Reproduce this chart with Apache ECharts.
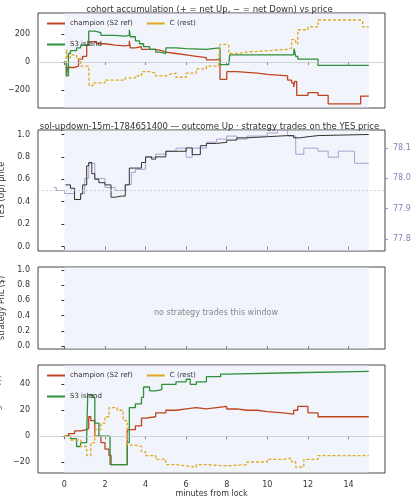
<!DOCTYPE html>
<html><head><meta charset="utf-8">
<script src="https://cdn.jsdelivr.net/npm/echarts@6/dist/echarts.min.js"></script>
<style>html,body{margin:0;background:#fff}#c{width:419px;height:500px}</style>
</head><body><div id="c"></div>
<script>
// ---- data (minutes from lock, value) ----
var accChampion = [[0,0],[0.1,-100],[0.15,-40],[0.5,-30],[0.7,20],[0.9,40],[1.1,120],[1.2,145],[1.6,130],[2.0,120],[2.5,115],[3.0,120],[3.2,150],[3.25,100],[3.5,110],[3.8,90],[4.0,90],[4.5,80],[4.8,70],[5.0,60],[5.5,50],[6.0,40],[6.5,30],[7.0,15],[7.4,20],[7.67,-125],[8.0,-70],[8.5,-75],[9.0,-80],[9.5,-90],[10.0,-95],[10.5,-100],[11.0,-130],[11.2,-150],[11.3,-180],[11.35,-140],[11.45,-240],[12.0,-220],[12.5,-240],[13.0,-300],[14.6,-245],[15,-245]];
var accS3 = [[0,0],[0.1,-100],[0.2,60],[0.3,80],[0.6,100],[0.8,120],[1.2,220],[1.5,210],[1.8,190],[2.5,185],[3.0,190],[3.2,230],[3.25,180],[3.5,150],[3.7,130],[3.9,110],[4.2,90],[4.5,70],[4.7,60],[5.0,100],[5.5,95],[6.0,90],[7.0,95],[7.3,100],[7.67,-20],[8.1,-20],[8.15,50],[9,50],[11.3,45],[11.32,95],[11.4,40],[11.5,20],[12.5,-25],[15,-25]];
var accC = [[0,0],[0.1,90],[0.15,30],[0.3,50],[0.6,20],[0.8,-30],[1.2,-40],[1.22,-170],[1.4,-150],[2,-130],[3,-115],[3.5,-100],[3.8,-70],[4.2,-80],[4.5,-100],[5,-90],[5.2,-80],[5.5,-110],[6,-80],[6.5,-50],[7,-30],[7.6,-10],[7.67,125],[8.0,120],[8.1,60],[8.5,70],[9,80],[10,85],[10.5,90],[11,100],[11.2,160],[11.4,130],[11.5,230],[12,250],[12.5,300],[14.6,295],[14.7,250],[15,260]];
var yesPrice = [[0.05,0.55],[0.3,0.52],[0.5,0.42],[0.8,0.47],[0.9,0.55],[1.1,0.72],[1.2,0.75],[1.35,0.65],[1.5,0.60],[1.7,0.57],[2,0.55],[2.3,0.44],[2.5,0.45],[2.8,0.45],[3.0,0.55],[3.2,0.70],[3.5,0.70],[3.8,0.75],[4,0.80],[4.3,0.78],[4.5,0.80],[5,0.85],[5.5,0.85],[6,0.88],[6.3,0.82],[6.7,0.90],[7,0.92],[7.5,0.93],[8,0.95],[8.5,0.97],[9,0.98],[10,0.99],[11,0.99],[11.3,0.97],[11.6,0.98],[12,0.99],[12.5,1.0],[15,1.0]];
var solUsd = [[-0.53,77.97],[-0.4,77.96],[0,77.95],[0.5,77.93],[0.8,77.95],[1.0,78.0],[1.2,78.05],[1.5,78.0],[2,77.97],[2.5,77.96],[3,77.98],[3.3,78.02],[3.5,78.03],[4,78.07],[4.5,78.08],[5,78.09],[5.5,78.10],[6,78.07],[6.3,78.10],[7,78.12],[7.5,78.13],[8,78.14],[8.5,78.13],[9,78.14],[10,78.15],[10.5,78.16],[11,78.14],[11.4,78.08],[11.8,78.10],[12,78.10],[12.5,78.09],[13,78.07],[13.5,78.09],[14,78.09],[14.3,78.05],[15,78.05]];
var pnlChampion = [[0,0],[0.2,2],[0.5,4],[0.8,5],[1.1,6],[1.2,15],[1.3,12],[1.5,0],[1.8,-5],[2.0,-10],[2.2,-15],[2.3,-22],[3.0,-22],[3.1,5],[3.5,8],[3.8,14],[4.0,15],[4.5,18],[5,20],[5.5,21],[6,22],[6.5,21],[7,22],[7.5,23],[8,21],[8.5,20],[9,20],[9.5,19],[10,18],[10.8,17],[11.3,20],[11.5,23],[12.0,18],[12.5,15],[15,14]];
var pnlS3 = [[0,0],[0.3,-2],[0.6,-8],[0.8,-5],[1.1,0],[1.15,32],[1.4,30],[1.5,10],[1.7,0],[2.25,-22],[3.0,-22],[3.1,-5],[3.2,22],[3.5,25],[3.8,30],[3.9,38],[4.2,35],[4.5,36],[4.8,40],[5.5,42],[6,44],[6.2,40],[6.5,42],[7,46],[7.7,48],[8,49],[11.3,50],[15,50]];
var pnlC = [[0,0],[0.3,-3],[0.8,-8],[1.1,-15],[1.3,-5],[1.5,5],[1.8,10],[2.0,15],[2.2,22],[2.6,20],[2.9,12],[3.1,-7],[3.5,-8],[3.8,-12],[4,-15],[4.5,-18],[5,-22],[5.5,-23],[6,-24],[6.5,-22],[7,-23],[8,-22],[9,-20],[10,-18],[10.8,-17],[11.2,-20],[11.4,-24],[11.7,-24],[11.8,-18],[12.5,-15],[15,-15]];
var xTicks = [0,2,4,6,8,10,12,14];
var accTicks = [-200,0,200];
var priceTicks = [0,0.2,0.4,0.6,0.8,1.0];
var pnlTicks = [-20,0,20,40];
var solTicks = [77.8,77.9,78.0,78.1];

var RED = '#c0441f', GREEN = '#2f8f3a', GOLD = '#e0a81e', INK = '#333';
var chart = echarts.init(document.getElementById('c'));
var font = {fontFamily: 'DejaVu Sans', fontSize: 8, color: INK};

var grids = [
  {left: 38, right: 34, top: 13, height: 95},
  {left: 38, right: 34, top: 130, height: 121},
  {left: 38, right: 34, top: 267, height: 82},
  {left: 38, right: 34, top: 365, height: 108}
].map(function (g) { return Object.assign(g, {show: true, borderColor: '#444', borderWidth: 1,
  backgroundColor: 'transparent', containLabel: false, outerBoundsMode: 'none'}); });

function xAxis(i) {
  return {
    type: 'value', gridIndex: i, min: -1.3, max: 15.8,
    axisLine: {show: false},
    axisTick: {show: true, customValues: xTicks, length: 3, lineStyle: {color: INK}},
    axisLabel: {show: i === 3, customValues: xTicks, fontSize: 8, color: INK, fontFamily: 'DejaVu Sans'},
    splitLine: {show: false},
    name: i === 3 ? 'minutes from lock' : '', nameLocation: 'middle', nameGap: 14,
    nameTextStyle: font
  };
}
function yAxis(i, min, max, ticks, name, gap) {
  var frac = ticks[1] - ticks[0] < 1;
  return {
    type: 'value', gridIndex: i, min: min, max: max,
    axisLine: {show: false},
    axisTick: {show: true, customValues: ticks, length: 3, lineStyle: {color: INK}},
    axisLabel: {customValues: ticks, fontSize: 8, color: INK, fontFamily: 'DejaVu Sans',
      formatter: function (v) { return (frac ? (+v).toFixed(1) : String(v)).replace('-', '\u2212'); }},
    splitLine: {show: false},
    name: name, nameLocation: 'middle', nameGap: gap, nameTextStyle: font
  };
}
function step(name, data, color, xi, yi, dashed, extra) {
  return Object.assign({
    name: name, type: 'line', step: 'end', data: data, xAxisIndex: xi, yAxisIndex: yi,
    symbol: 'none', lineStyle: {color: color, width: 1.3, type: dashed ? [3, 2] : 'solid'},
    itemStyle: {color: color}, animation: false
  }, extra || {});
}
function span(xi, yi) {
  return {type: 'line', data: [], xAxisIndex: xi, yAxisIndex: yi, silent: true,
    markArea: {silent: true, itemStyle: {color: 'rgba(225,230,245,0.45)'}, data: [[{xAxis: 0}, {xAxis: 15}]]}};
}
function zero(xi, yi, y) {
  return {type: 'line', data: [], xAxisIndex: xi, yAxisIndex: yi, silent: true,
    markLine: {silent: true, symbol: 'none', label: {show: false},
      lineStyle: {color: '#c8c8c8', width: 0.8, type: y === 0.5 ? [2, 2] : 'solid'}, data: [{yAxis: y}]}};
}
var legendCommon = {data: ['champion (S2 ref)', 'C (rest)', 'S3 island'], width: 170, itemWidth: 18, itemHeight: 2,
  itemGap: 14, textStyle: {fontSize: 7, color: INK, fontFamily: 'DejaVu Sans'}, icon: 'rect', selectedMode: false};

chart.setOption({
  title: [
    {text: 'cohort accumulation (+ = net Up, \u2212 = net Down) vs price', left: 'center', top: 0,
      textStyle: {fontSize: 8.5, fontWeight: 'normal', color: INK, fontFamily: 'DejaVu Sans'}},
    {text: 'sol-updown-15m-1784651400 \u2014 outcome Up \u00b7 strategy trades on the YES price', left: 'center', top: 117,
      textStyle: {fontSize: 8.5, fontWeight: 'normal', color: INK, fontFamily: 'DejaVu Sans'}},
    {text: 'no strategy trades this window', left: 211, top: 304, textAlign: 'center',
      textStyle: {fontSize: 8, fontWeight: 'normal', color: '#888', fontFamily: 'DejaVu Sans'}}
  ],
  legend: [
    Object.assign({left: 42, top: 15}, legendCommon),
    Object.assign({left: 42, top: 367}, legendCommon)
  ],
  grid: grids,
  xAxis: [xAxis(0), xAxis(1), xAxis(2), xAxis(3)],
  yAxis: [
    yAxis(0, -330, 350, accTicks, 'acc. net YES (shares)', 27),
    yAxis(1, -0.04, 1.04, priceTicks, 'YES (Up) price', 22),
    yAxis(2, -0.04, 1.04, priceTicks, 'strategy PnL ($)', 22),
    yAxis(3, -28.5, 55, pnlTicks, 'cohort moving PnL ($)', 22),
    {type: 'value', gridIndex: 1, position: 'right', min: 77.76, max: 78.16,
      axisLine: {show: false}, axisTick: {show: true, customValues: solTicks, length: 3, lineStyle: {color: '#9a8cc0'}},
      axisLabel: {customValues: solTicks, fontSize: 8, color: '#8c7db8', fontFamily: 'DejaVu Sans',
        formatter: function (v) { return (+v).toFixed(1); }},
      splitLine: {show: false},
      name: 'SOL/USD (strike dotted = YES 0.5)', nameLocation: 'middle', nameRotate: -90, nameGap: 26,
      nameTextStyle: {fontSize: 7, color: '#8c7db8', fontFamily: 'DejaVu Sans'}}
  ],
  series: [
    span(0, 0), zero(0, 0, 0),
    step('champion (S2 ref)', accChampion, RED, 0, 0, false),
    step('S3 island', accS3, GREEN, 0, 0, false),
    step('C (rest)', accC, GOLD, 0, 0, true),
    span(1, 1), zero(1, 1, 0.5),
    step('SOL', solUsd, '#ab9fd0', 1, 4, false, {lineStyle: {color: '#ab9fd0', width: 1}}),
    step('YES', yesPrice, '#333', 1, 1, false, {lineStyle: {color: '#333', width: 1}}),
    span(2, 2),
    span(3, 3), zero(3, 3, 0),
    step('champion (S2 ref)', pnlChampion, RED, 3, 3, false),
    step('S3 island', pnlS3, GREEN, 3, 3, false),
    step('C (rest)', pnlC, GOLD, 3, 3, true)
  ]
});
</script></body></html>
